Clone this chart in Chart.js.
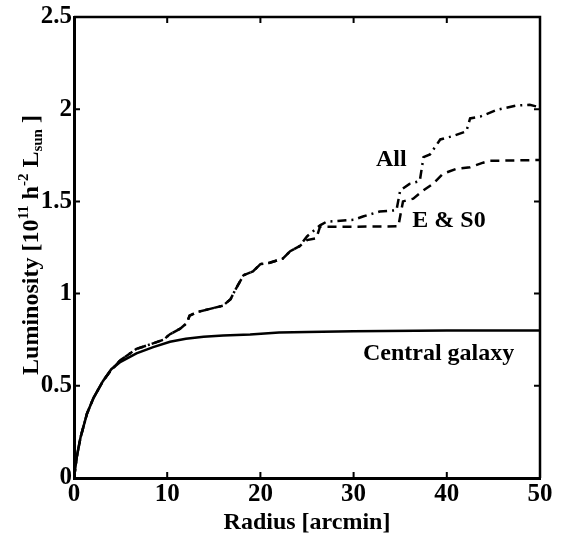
<!DOCTYPE html>
<html>
<head>
<meta charset="utf-8">
<script src="https://cdn.jsdelivr.net/npm/chart.js@4.4.0/dist/chart.umd.min.js"></script>
<style>
  html, body { margin: 0; padding: 0; background: #fff; }
  #wrap { width: 568px; height: 537px; }
</style>
</head>
<body>
<div id="wrap"><canvas id="lumChart"></canvas></div>
<script>
// values (radius in arcmin, luminosity in 10^11 h^-2 Lsun)
const centralX = [0, 0.3, 0.7, 1.4, 2.1, 3.1, 4, 5, 6.7, 8.5, 10.3, 12, 13.9, 16, 18.9, 22, 25, 30, 40, 50];
const centralY = [0, 0.115, 0.22, 0.35, 0.435, 0.525, 0.59, 0.63, 0.676, 0.71, 0.739, 0.755, 0.766, 0.773, 0.778, 0.789, 0.792, 0.796, 0.80, 0.80];

const allX = [0, 0.3, 0.7, 1.4, 2.1, 3.1, 3.9, 5, 6.7, 8.2, 9.6, 10.3, 11.4, 12.1, 12.4, 13.2, 14.6, 16, 16.8, 17.1, 17.3, 18.2, 19.2, 20, 21, 22.4, 23.2, 24.2, 25, 26.4, 27.1, 30, 31, 32.8, 34.6, 35, 36, 37.1, 37.5, 38.2, 39.3, 40.7, 42.1, 42.5, 43.6, 45.4, 47.5, 48.9, 49.6, 50];
const allY = [0, 0.115, 0.22, 0.35, 0.435, 0.525, 0.58, 0.64, 0.70, 0.725, 0.75, 0.78, 0.81, 0.84, 0.88, 0.90, 0.917, 0.935, 0.97, 1.0, 1.02, 1.10, 1.12, 1.16, 1.167, 1.19, 1.23, 1.257, 1.31, 1.37, 1.39, 1.40, 1.418, 1.445, 1.452, 1.56, 1.595, 1.61, 1.74, 1.755, 1.836, 1.855, 1.88, 1.95, 1.96, 1.997, 2.02, 2.024, 2.015, 2.0];

const es0X = [0, 0.3, 0.7, 1.4, 2.1, 3.1, 3.9, 5, 6.7, 8.2, 9.6, 10.3, 11.4, 12.1, 12.4, 13.2, 14.6, 16, 16.8, 17.1, 17.3, 18.2, 19.2, 20, 21, 22.4, 23.2, 24.2, 25, 26, 26.4, 30, 34.8, 35, 35.3, 36.4, 37.5, 38.5, 39.6, 41, 42.5, 43.9, 44.6, 49.6, 50];
const es0Y = [0, 0.115, 0.22, 0.35, 0.435, 0.525, 0.58, 0.64, 0.70, 0.725, 0.75, 0.78, 0.81, 0.84, 0.88, 0.90, 0.917, 0.935, 0.97, 1.0, 1.02, 1.10, 1.12, 1.16, 1.167, 1.19, 1.23, 1.257, 1.29, 1.30, 1.363, 1.363, 1.365, 1.42, 1.50, 1.515, 1.56, 1.595, 1.65, 1.676, 1.685, 1.71, 1.72, 1.724, 1.724];

const xTicks = [0, 10, 20, 30, 40, 50];
const yTicks = [0, 0.5, 1, 1.5, 2, 2.5];

// curve labels placed at data coordinates
const curveLabels = [
  { text: 'All', x: 32.4, y: 1.725 },
  { text: 'E & S0', x: 36.3, y: 1.395 },
  { text: 'Central galaxy', x: 31, y: 0.675 }
];

const pts = (xs, ys) => xs.map((x, i) => ({ x: x, y: ys[i] }));
const serif = '"Liberation Serif", "Times New Roman", serif';

// inward ticks on all four sides, top/right frame, curve labels, y axis title
const decorPlugin = {
  id: 'decor',
  afterDraw(chart) {
    const ctx = chart.ctx;
    const a = chart.chartArea;
    const xs = chart.scales.x, ys = chart.scales.y;
    ctx.save();
    ctx.strokeStyle = '#000';
    ctx.lineWidth = 2.5;
    ctx.beginPath();
    ctx.moveTo(a.left, a.top); ctx.lineTo(a.right, a.top); ctx.lineTo(a.right, a.bottom);
    ctx.stroke();
    ctx.lineWidth = 2;
    xTicks.forEach(v => {
      const px = xs.getPixelForValue(v);
      ctx.beginPath();
      ctx.moveTo(px, a.bottom); ctx.lineTo(px, a.bottom - 6);
      ctx.moveTo(px, a.top); ctx.lineTo(px, a.top + 6);
      ctx.stroke();
    });
    yTicks.forEach(v => {
      const py = ys.getPixelForValue(v);
      ctx.beginPath();
      ctx.moveTo(a.left, py); ctx.lineTo(a.left + 6, py);
      ctx.moveTo(a.right, py); ctx.lineTo(a.right - 6, py);
      ctx.stroke();
    });

    ctx.fillStyle = '#000';
    ctx.font = 'bold 24px ' + serif;
    ctx.textAlign = 'left';
    ctx.textBaseline = 'middle';
    curveLabels.forEach(l => {
      ctx.fillText(l.text, xs.getPixelForValue(l.x), ys.getPixelForValue(l.y));
    });

    // y axis title with super/subscripts
    const parts = [
      { t: 'Luminosity [10', s: 24, dy: 0 },
      { t: '11', s: 15, dy: -10 },
      { t: ' h', s: 24, dy: 0 },
      { t: '-2', s: 15, dy: -10 },
      { t: ' L', s: 24, dy: 0 },
      { t: 'sun', s: 15, dy: 4 },
      { t: ' ]', s: 24, dy: 0 }
    ];
    let total = 0;
    parts.forEach(p => { ctx.font = 'bold ' + p.s + 'px ' + serif; p.w = ctx.measureText(p.t).width; total += p.w; });
    ctx.translate(30, 245);
    ctx.rotate(-Math.PI / 2);
    let cx = -total / 2;
    ctx.textBaseline = 'alphabetic';
    parts.forEach(p => {
      ctx.font = 'bold ' + p.s + 'px ' + serif;
      ctx.fillText(p.t, cx, 8 + p.dy);
      cx += p.w;
    });
    ctx.restore();
  }
};

new Chart(document.getElementById('lumChart'), {
  type: 'line',
  data: {
    datasets: [
      {
        label: 'Central galaxy',
        data: pts(centralX, centralY),
        borderColor: '#000',
        borderWidth: 2.5,
        pointRadius: 0,
        tension: 0,
        fill: false
      },
      {
        label: 'All',
        data: pts(allX, allY),
        borderColor: '#000',
        borderWidth: 2.5,
        borderDash: [9, 5, 2, 5],
        pointRadius: 0,
        tension: 0,
        fill: false
      },
      {
        label: 'E & S0',
        data: pts(es0X, es0Y),
        borderColor: '#000',
        borderWidth: 2.5,
        borderDash: [9, 6],
        pointRadius: 0,
        tension: 0,
        fill: false
      }
    ]
  },
  options: {
    responsive: true,
    maintainAspectRatio: false,
    animation: false,
    layout: { padding: { left: 0, top: 11, right: 28, bottom: 0 } },
    plugins: {
      legend: { display: false },
      tooltip: { enabled: false }
    },
    scales: {
      x: {
        type: 'linear',
        min: 0,
        max: 50,
        afterBuildTicks: s => { s.ticks = xTicks.map(v => ({ value: v })); },
        afterFit: s => { s.height = 59; },
        grid: { display: false, drawTicks: false },
        border: { display: true, color: '#000', width: 3 },
        ticks: {
          color: '#000',
          padding: 2,
          maxRotation: 0,
          font: { family: serif, size: 25, weight: 'bold' }
        },
        title: {
          display: true,
          text: 'Radius [arcmin]',
          color: '#000',
          padding: { top: -8, bottom: 0 },
          font: { family: serif, size: 24, weight: 'bold' }
        }
      },
      y: {
        min: 0,
        max: 2.5,
        afterBuildTicks: s => { s.ticks = yTicks.map(v => ({ value: v })); },
        afterFit: s => { s.width = 74; },
        grid: { display: false, drawTicks: false },
        border: { display: true, color: '#000', width: 3 },
        ticks: {
          color: '#000',
          padding: 2,
          callback: v => String(v),
          font: { family: serif, size: 25, weight: 'bold' }
        }
      }
    }
  },
  plugins: [decorPlugin]
});
</script>
</body>
</html>
